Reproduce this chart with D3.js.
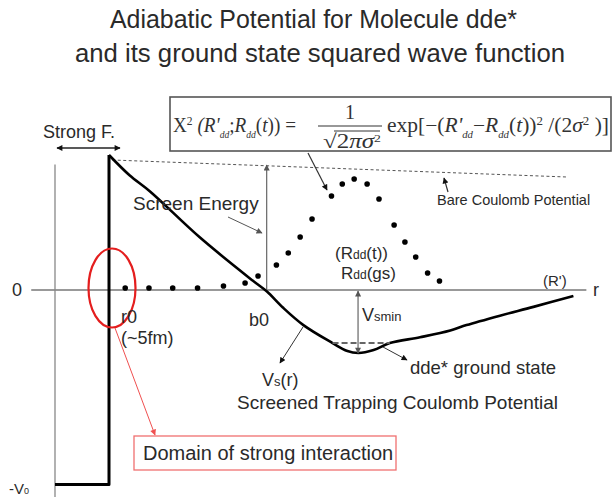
<!DOCTYPE html>
<html><head><meta charset="utf-8">
<script src="https://cdn.jsdelivr.net/npm/d3@7"></script>
<style>body{margin:0;background:#fff} svg{display:block}</style>
</head><body>
<svg id="c" width="612" height="497"></svg>
<script>
// ---------- data (r in fm-like units, V in arbitrary energy units) ----------
const rWell = [0, 5.0, 5.0];
const vWell = [-14.4, -14.4, 10.0];
const rVs = [5.0, 6.9, 8.8, 13.4, 18.3, 19.6, 21.1, 23.0, 25.7, 27.0, 28.1, 29.5, 31.0, 33.8, 36.6, 38.1, 41.2, 44.3, 48.0];
const vVs = [10.0, 8.5, 7.3, 3.9, 0.7, -0.1, -1.3, -2.6, -3.93, -4.5, -4.67, -4.45, -3.93, -3.5, -3.0, -2.6, -1.9, -1.25, -0.44];
const rBare = [5.3, 15.0, 25.0, 35.0, 47.4];
const vBare = [9.63, 9.34, 9.04, 8.74, 8.37];
const rDots = [6.5, 8.7, 10.9, 13.2, 15.6, 17.6, 18.8, 20.5, 21.6, 22.7, 23.8, 25.6, 26.6, 27.7, 28.9, 30.0, 31.4, 32.4, 33.4, 34.5, 35.6];
const vDots = [0.15, 0.15, 0.15, 0.15, 0.30, 0.52, 1.04, 1.85, 2.74, 3.93, 5.26, 6.96, 7.85, 8.22, 7.85, 6.74, 4.81, 3.56, 2.44, 1.26, 0.67];
const gsLevel = -3.93, gsR = [25.7, 31.0];
const rMin = 28.06, vMin = -4.67;
const r0 = 5.0, b0 = 19.6, screenTop = 9.26, V0 = -14.4;
const titleLines = ["Adiabatic Potential for Molecule dde*", "and its ground state squared wave function"];

// ---------- scales ----------
const x = d3.scaleLinear().domain([0, 50]).range([55, 595]);
const y = d3.scaleLinear().domain([0, 10]).range([290, 155]);

const svg = d3.select("#c");
const sans = "'Liberation Sans', Arial, sans-serif";
const serif = "'Liberation Serif', 'Times New Roman', serif";
const ink = "#2a2a2a";

const defs = svg.append("defs");
function marker(id, color, w, h) {
  defs.append("marker").attr("id", id).attr("viewBox", "0 0 10 10")
    .attr("refX", 9).attr("refY", 5).attr("markerWidth", w).attr("markerHeight", h)
    .attr("orient", "auto-start-reverse").attr("markerUnits", "userSpaceOnUse")
    .append("path").attr("d", "M0,0 L10,5 L0,10 z").attr("fill", color);
}
marker("ab", "#111", 7, 6);
marker("ag", "#555", 7, 6);
marker("ar", "#f05050", 7, 6);

// ---------- title ----------
svg.selectAll("text.title").data(titleLines).join("text").attr("class", "title")
  .attr("x", (d, i) => i === 0 ? 110 : 75).attr("y", (d, i) => 28 + i * 34)
  .attr("font-family", sans).attr("font-size", 25.5)
  .attr("textLength", (d, i) => i === 0 ? 407 : 490).attr("lengthAdjust", "spacingAndGlyphs")
  .attr("fill", ink).text(d => d);

// ---------- axes ----------
svg.append("line").attr("x1", x(-2.2)).attr("x2", x(49.2)).attr("y1", y(0)).attr("y2", y(0))
  .attr("stroke", "#777").attr("stroke-width", 1.3);
svg.append("line").attr("x1", x(0)).attr("x2", x(0)).attr("y1", y(9.3)).attr("y2", 497)
  .attr("stroke", "#888").attr("stroke-width", 1.3);

// ---------- bare coulomb (dashed) ----------
svg.append("path").datum(d3.zip(rBare, vBare))
  .attr("d", d3.line().x(d => x(d[0])).y(d => y(d[1])).curve(d3.curveMonotoneX))
  .attr("fill", "none").attr("stroke", "#555").attr("stroke-width", 1).attr("stroke-dasharray", "3,2.5");

// ---------- potential well + screened potential ----------
svg.append("path").datum(d3.zip(rWell, vWell))
  .attr("d", d3.line().x(d => x(d[0])).y(d => y(d[1])))
  .attr("fill", "none").attr("stroke", "#000").attr("stroke-width", 3).attr("stroke-linejoin", "round");
svg.append("path").datum(d3.zip(rVs, vVs))
  .attr("d", d3.line().x(d => x(d[0])).y(d => y(d[1])).curve(d3.curveCatmullRom))
  .attr("fill", "none").attr("stroke", "#000").attr("stroke-width", 2.6).attr("stroke-linejoin", "round");

// ---------- ground state level ----------
svg.append("line").attr("x1", x(gsR[0])).attr("x2", x(gsR[1])).attr("y1", y(gsLevel)).attr("y2", y(gsLevel))
  .attr("stroke", "#666").attr("stroke-width", 2).attr("stroke-dasharray", "6,3");

// ---------- wave function dots ----------
svg.selectAll("circle.wf").data(d3.zip(rDots, vDots)).join("circle").attr("class", "wf")
  .attr("cx", d => x(d[0])).attr("cy", d => y(d[1])).attr("r", 2.8).attr("fill", "#000");

// ---------- arrows ----------
function arrow(x1, y1, x2, y2, m, color, w, start) {
  const l = svg.append("line").attr("x1", x1).attr("y1", y1).attr("x2", x2).attr("y2", y2)
    .attr("stroke", color).attr("stroke-width", w).attr("marker-end", `url(#${m})`);
  if (start) l.attr("marker-start", `url(#${m})`);
}
arrow(x(b0), y(0) - 1, x(b0), y(screenTop), "ag", "#666", 1.2);               // screen energy
arrow(x(rMin), y(0) + 1, x(rMin), y(vMin), "ag", "#666", 1.2, true);           // Vsmin
arrow(57, 148, 120, 148, "ab", "#222", 1.6, true);                             // strong F.
arrow(228, 217, 262, 233, "ag", "#555", 1);                                    // screen energy label
arrow(308, 153, 327, 190, "ab", "#333", 1.2);                                  // formula -> dots
arrow(448, 192, 444, 178, "ab", "#333", 1.2);                                  // bare coulomb
arrow(303, 327, 280, 363, "ab", "#333", 1);                                    // Vs(r)
arrow(383, 347, 407, 360, "ab", "#333", 1);                                    // ground state
arrow(115, 328, 155, 435, "ar", "#f05050", 1);                                 // domain

// ---------- red ellipse ----------
svg.append("ellipse").attr("cx", x(r0) + 3).attr("cy", y(0) - 2).attr("rx", 23.5).attr("ry", 39.5)
  .attr("fill", "none").attr("stroke", "#e41e1e").attr("stroke-width", 2.2);

// ---------- labels ----------
function txt(s, xx, yy, fs, opt = {}) {
  const t = svg.append("text").attr("x", xx).attr("y", yy).attr("font-family", opt.ff || sans)
    .attr("font-size", fs).attr("fill", opt.fill || ink);
  if (opt.anchor) t.attr("text-anchor", opt.anchor);
  if (typeof s === "string") t.text(s);
  else s.forEach(p => {
    const ts = t.append("tspan").text(p[0]);
    if (p[1]) ts.attr("font-size", p[1]);
    if (p[2]) ts.attr("baseline-shift", p[2]);
    if (p[3]) ts.attr("font-style", p[3]);
  });
  return t;
}
txt("0", 12, 296, 18);
txt("r", 593, 296, 18);
txt("(R')", 543, 286, 15);
txt("r0", 121, 323, 18);
txt("(~5fm)", 121, 344, 18);
txt("b0", 249, 326, 18);
txt("Strong F.", 43, 138, 18);
txt("Screen Energy", 133, 210, 19);
txt("Bare Coulomb Potential", 437, 205, 14.5);
txt([["(R"], ["dd", 12], ["(t))"]], 335, 259, 17);
txt([["R"], ["dd", 12], ["(gs)"]], 341, 279, 17);
txt([["V"], ["smin", 13]], 362, 321, 18);
txt("dde* ground state", 410, 374, 18.5);
txt([["V"], ["s", 13], ["(r)"]], 262, 386, 18);
txt("Screened Trapping Coulomb Potential", 237, 409, 19);
txt([["-V", 15], ["0", 9]], 9, 494, 15);

// domain box
svg.append("rect").attr("x", 134).attr("y", 436).attr("width", 262).attr("height", 34)
  .attr("fill", "#fff").attr("stroke", "#f07070").attr("stroke-width", 1.3);
txt("Domain of strong interaction", 143, 460, 20);

// ---------- formula box ----------
svg.append("rect").attr("x", 170).attr("y", 97).attr("width", 441).attr("height", 54)
  .attr("fill", "#fff").attr("stroke", "#555").attr("stroke-width", 1.6);
const fA = txt([["Χ"], ["2", 12, "super"], [" (R'", null, null, "italic"], ["dd", 10, "sub", "italic"], [";"],
  ["R", null, null, "italic"], ["dd", 10, "sub", "italic"], ["(", null], ["t", null, null, "italic"], ["))"], [" ="]],
  173, 132, 20, { ff: serif, fill: "#333" });
fA.attr("textLength", 123).attr("lengthAdjust", "spacingAndGlyphs");
txt("1", 350, 119, 20, { ff: serif, fill: "#333", anchor: "middle" });
svg.append("line").attr("x1", 318).attr("x2", 382).attr("y1", 126).attr("y2", 126).attr("stroke", "#333").attr("stroke-width", 1.2);
const fC = txt([["√2"], ["πσ", null, null, "italic"], ["2", 11, "super"]], 323, 148, 20, { ff: serif, fill: "#333" });
fC.attr("textLength", 58).attr("lengthAdjust", "spacingAndGlyphs");
svg.append("line").attr("x1", 334).attr("x2", 380).attr("y1", 131).attr("y2", 131).attr("stroke", "#333").attr("stroke-width", 1);
const fD = txt([["exp[−("], ["R'", null, null, "italic"], ["dd", 10, "sub", "italic"], ["−"], ["R", null, null, "italic"],
  ["dd", 10, "sub", "italic"], ["("], ["t", null, null, "italic"], [")"], [")"], ["2", 12, "super"], [" /(2"],
  ["σ", null, null, "italic"], ["2", 12, "super"], [" )]"]], 387, 132, 20, { ff: serif, fill: "#333" });
fD.attr("textLength", 222).attr("lengthAdjust", "spacingAndGlyphs");
</script>
</body></html>
